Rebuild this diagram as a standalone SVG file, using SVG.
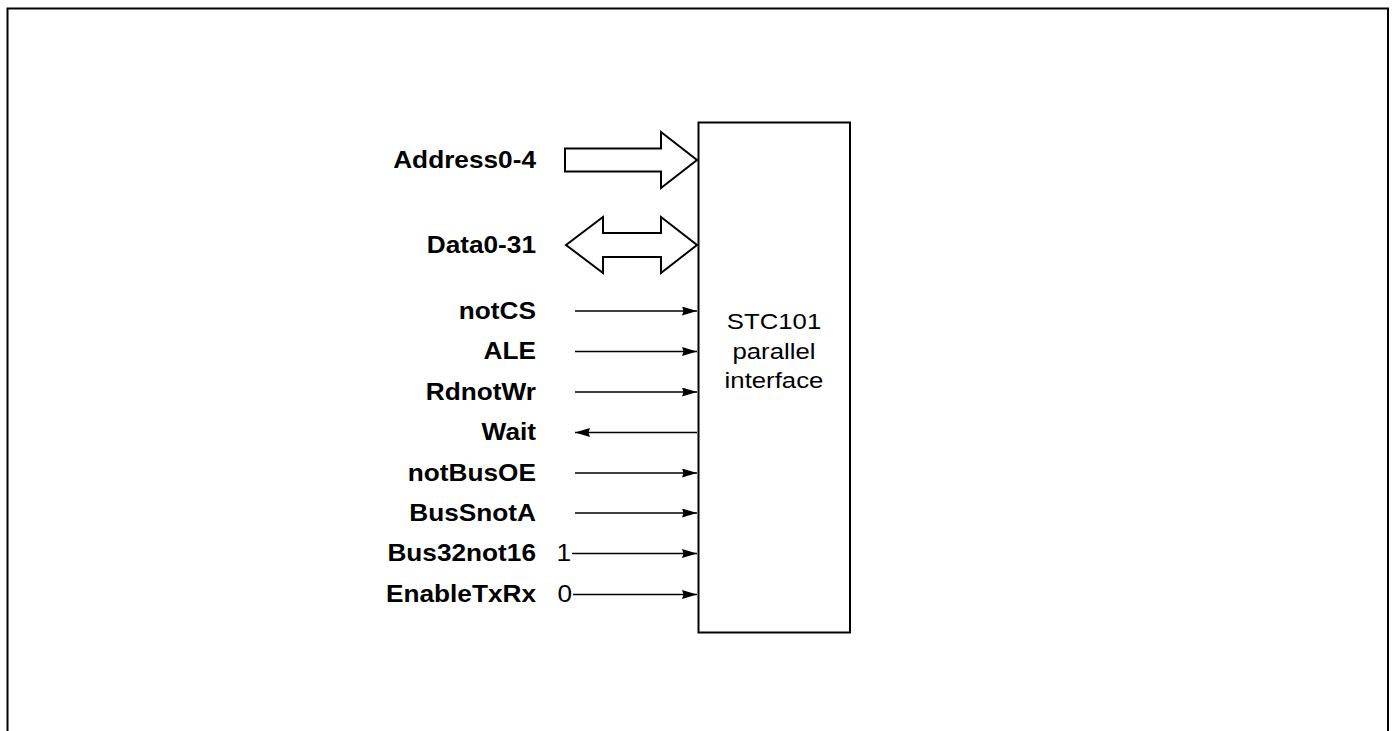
<svg xmlns="http://www.w3.org/2000/svg" width="1393" height="731" viewBox="0 0 1393 731">
<style>
.lbl{font-family:"Liberation Sans",Arial,sans-serif;font-size:23px;font-weight:bold;fill:#000;text-anchor:end}
.num{font-family:"Liberation Sans",Arial,sans-serif;font-size:23px;fill:#000;text-anchor:end}
.box{font-family:"Liberation Sans",Arial,sans-serif;font-size:23px;fill:#000;text-anchor:middle}
.sig{stroke:#000;stroke-width:1.7;fill:none}
.bus{stroke:#000;stroke-width:2;fill:#fff;stroke-linejoin:miter}
</style>
<defs>
<marker id="ah" viewBox="0 0 15 9" refX="15" refY="4.5" markerWidth="15" markerHeight="9" markerUnits="userSpaceOnUse" orient="auto">
<path d="M0,0 L15,4.5 L0,9 L1.5,4.5 Z" fill="#000"/>
</marker>
</defs>
<rect width="1393" height="731" fill="#fff"/>
<path d="M7.5,731 V8.5 H1388 V731" fill="none" stroke="#000" stroke-width="2"/>
<g id="stc101">
<rect x="698.5" y="122.5" width="151.5" height="510" fill="#fff" stroke="#000" stroke-width="2"/>
<g transform="matrix(1.12 0 0 1 -92.88 0)">
<text class="box" x="774" y="329">STC101</text>
<text class="box" x="774" y="359">parallel</text>
<text class="box" x="774" y="388">interface</text>
</g>
</g>
<g id="connectors">
<polygon class="bus" points="565,148.5 661,148.5 661,132 697,160 661,188 661,171.5 565,171.5"/>
<polygon class="bus" points="566,245 603,217 603,233 661,233 661,217 697,245 661,273 661,257 603,257 603,273"/>
<line class="sig" x1="575" y1="311" x2="697" y2="311" marker-end="url(#ah)"/>
<line class="sig" x1="575" y1="351.5" x2="697" y2="351.5" marker-end="url(#ah)"/>
<line class="sig" x1="575" y1="392" x2="697" y2="392" marker-end="url(#ah)"/>
<line class="sig" x1="697" y1="432.5" x2="575" y2="432.5" marker-end="url(#ah)"/>
<line class="sig" x1="575" y1="473" x2="697" y2="473" marker-end="url(#ah)"/>
<line class="sig" x1="575" y1="513" x2="697" y2="513" marker-end="url(#ah)"/>
<line class="sig" x1="572" y1="553.5" x2="697" y2="553.5" marker-end="url(#ah)"/>
<line class="sig" x1="573" y1="594.5" x2="697" y2="594.5" marker-end="url(#ah)"/>
</g>
<g id="labels" transform="matrix(1.14 0 0 1 -75.04 0)">
<text class="lbl" x="536" y="168">Address0-4</text>
<text class="lbl" x="536" y="253">Data0-31</text>
<text class="lbl" x="536" y="319">notCS</text>
<text class="lbl" x="536" y="359.5">ALE</text>
<text class="lbl" x="536" y="400">RdnotWr</text>
<text class="lbl" x="536" y="440.5">Wait</text>
<text class="lbl" x="536" y="481">notBusOE</text>
<text class="lbl" x="536" y="521">BusSnotA</text>
<text class="lbl" x="536" y="561.5">Bus32not16</text>
<text class="lbl" x="536" y="602.5">EnableTxRx</text>
</g>
<g id="values" transform="matrix(1.14 0 0 1 -79.94 0)">
<text class="num" x="571" y="561.5">1</text>
<text class="num" x="572" y="602.5">0</text>
</g>
</svg>
